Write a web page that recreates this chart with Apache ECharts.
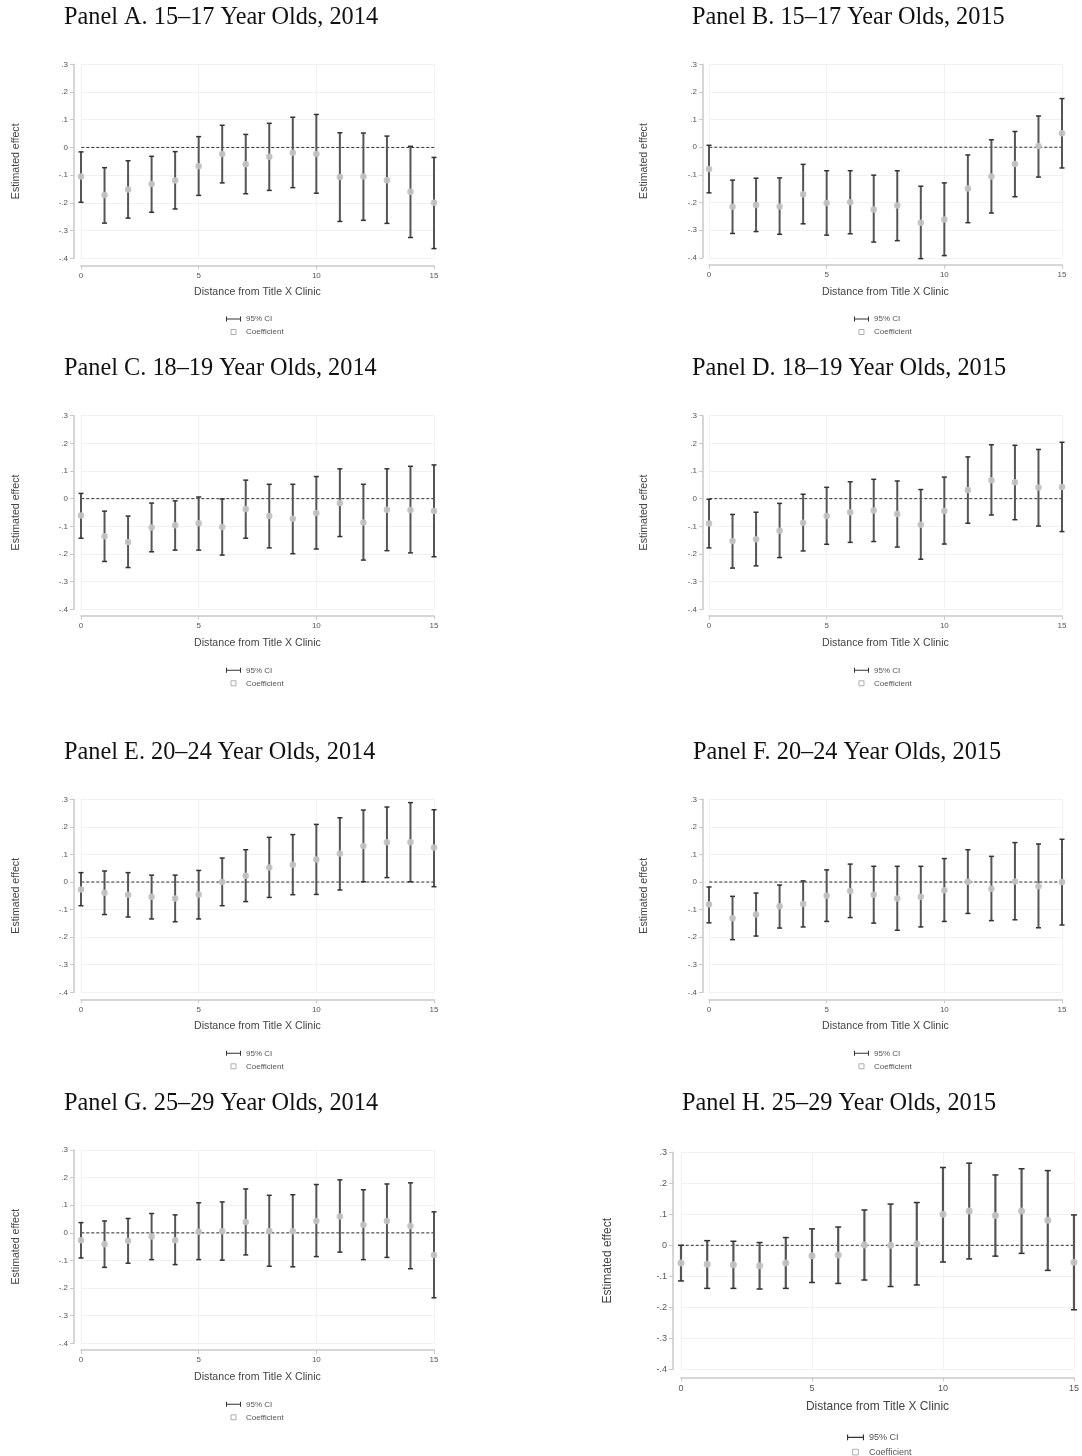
<!DOCTYPE html>
<html>
<head>
<meta charset="utf-8">
<script src="https://cdn.jsdelivr.net/npm/echarts@6/dist/echarts.min.js"></script>
<style>
html,body{margin:0;padding:0;background:#fff;}
#chart{width:1082px;height:1456px;}
</style>
</head>
<body>
<div id="chart"></div>
<script>
// ---------- DATA ----------
const distance = [0,1,2,3,4,5,6,7,8,9,10,11,12,13,14,15];
const xTickValues = [0,5,10,15];
const yTickValues = [0.3,0.2,0.1,0,-0.1,-0.2,-0.3,-0.4];
const yTickLabels = ['.3','.2','.1','0','-.1','-.2','-.3','-.4'];
const zeroLineX = [-0.2, 15.35];
const zeroLineY = [0, 0];

const titles = [
  'Panel A. 15\u201317 Year Olds, 2014','Panel B. 15\u201317 Year Olds, 2015',
  'Panel C. 18\u201319 Year Olds, 2014','Panel D. 18\u201319 Year Olds, 2015',
  'Panel E. 20\u201324 Year Olds, 2014','Panel F. 20\u201324 Year Olds, 2015',
  'Panel G. 25\u201329 Year Olds, 2014','Panel H. 25\u201329 Year Olds, 2015'
];

const coefA = [-0.105,-0.172,-0.152,-0.132,-0.119,-0.068,-0.024,-0.061,-0.034,-0.019,-0.024,-0.107,-0.105,-0.118,-0.160,-0.200];
const loA   = [-0.198,-0.273,-0.255,-0.234,-0.222,-0.173,-0.128,-0.167,-0.155,-0.145,-0.165,-0.267,-0.263,-0.274,-0.325,-0.365];
const hiA   = [-0.016,-0.073,-0.048,-0.032,-0.015,0.039,0.080,0.047,0.087,0.109,0.119,0.053,0.052,0.041,0.004,-0.036];

const coefB = [-0.079,-0.215,-0.209,-0.214,-0.170,-0.202,-0.199,-0.225,-0.211,-0.273,-0.261,-0.149,-0.106,-0.061,0.004,0.051];
const loB   = [-0.165,-0.312,-0.305,-0.315,-0.277,-0.318,-0.313,-0.343,-0.338,-0.403,-0.392,-0.273,-0.238,-0.179,-0.108,-0.075];
const hiB   = [0.007,-0.119,-0.112,-0.111,-0.062,-0.085,-0.085,-0.101,-0.085,-0.141,-0.129,-0.028,0.027,0.057,0.113,0.176];

const coefC = [-0.061,-0.136,-0.157,-0.104,-0.096,-0.089,-0.102,-0.037,-0.063,-0.073,-0.052,-0.016,-0.086,-0.040,-0.041,-0.045];
const loC   = [-0.143,-0.227,-0.249,-0.192,-0.186,-0.186,-0.204,-0.143,-0.178,-0.199,-0.182,-0.137,-0.222,-0.188,-0.196,-0.210];
const hiC   = [0.019,-0.045,-0.063,-0.016,-0.008,0.006,-0.001,0.067,0.052,0.052,0.080,0.108,0.052,0.108,0.117,0.122];

const coefD = [-0.090,-0.153,-0.147,-0.116,-0.087,-0.063,-0.049,-0.043,-0.055,-0.094,-0.045,0.031,0.067,0.059,0.040,0.042];
const loD   = [-0.178,-0.251,-0.243,-0.213,-0.189,-0.165,-0.158,-0.155,-0.175,-0.219,-0.164,-0.089,-0.059,-0.076,-0.099,-0.119];
const hiD   = [-0.002,-0.057,-0.049,-0.017,0.016,0.041,0.061,0.070,0.064,0.033,0.078,0.151,0.195,0.193,0.178,0.204];

const coefE = [-0.027,-0.039,-0.046,-0.053,-0.060,-0.045,0.000,0.023,0.053,0.063,0.082,0.103,0.131,0.144,0.144,0.125];
const loE   = [-0.086,-0.118,-0.127,-0.134,-0.144,-0.134,-0.086,-0.071,-0.056,-0.046,-0.045,-0.029,0.001,0.016,0.001,-0.017];
const hiE   = [0.034,0.040,0.034,0.025,0.025,0.042,0.087,0.117,0.162,0.172,0.209,0.233,0.261,0.272,0.288,0.262];

const coefF = [-0.082,-0.131,-0.118,-0.088,-0.080,-0.050,-0.033,-0.046,-0.060,-0.053,-0.030,0.001,-0.024,0.002,-0.015,0.000];
const loF   = [-0.148,-0.209,-0.196,-0.167,-0.163,-0.143,-0.129,-0.149,-0.175,-0.163,-0.143,-0.114,-0.140,-0.137,-0.166,-0.156];
const hiF   = [-0.018,-0.052,-0.040,-0.011,0.004,0.044,0.065,0.057,0.057,0.057,0.085,0.117,0.093,0.143,0.138,0.155];

const coefG = [-0.027,-0.041,-0.029,-0.013,-0.027,0.004,0.006,0.039,0.007,0.006,0.043,0.059,0.029,0.043,0.025,-0.080];
const loG   = [-0.091,-0.125,-0.110,-0.097,-0.115,-0.097,-0.099,-0.080,-0.121,-0.123,-0.086,-0.070,-0.097,-0.089,-0.130,-0.235];
const hiG   = [0.037,0.043,0.052,0.070,0.065,0.109,0.112,0.159,0.136,0.138,0.175,0.192,0.156,0.177,0.181,0.076];

const coefH = [-0.057,-0.061,-0.063,-0.066,-0.057,-0.034,-0.031,0.001,0.000,0.004,0.100,0.111,0.096,0.111,0.081,-0.055];
const loH   = [-0.115,-0.139,-0.139,-0.141,-0.139,-0.120,-0.123,-0.112,-0.133,-0.128,-0.054,-0.044,-0.035,-0.026,-0.081,-0.208];
const hiH   = [0.000,0.015,0.013,0.009,0.025,0.053,0.059,0.114,0.133,0.138,0.251,0.265,0.227,0.247,0.241,0.098];

const coefs = [coefA,coefB,coefC,coefD,coefE,coefF,coefG,coefH];
const lows  = [loA,loB,loC,loD,loE,loF,loG,loH];
const highs = [hiA,hiB,hiC,hiD,hiE,hiF,hiG,hiH];

// ---------- LAYOUT ----------
const layouts = [
  {gl:81,  gt:64.3,   gw:353, gh:194,   yOff:7, xOff:7,   tx:64,  ty:16,     lx:226, ly:314,    big:false},
  {gl:709, gt:64.3,   gw:353, gh:193.5, yOff:6, xOff:7,   tx:692, ty:16,     lx:854, ly:314,    big:false},
  {gl:81,  gt:415.7,  gw:353, gh:193.6, yOff:7, xOff:6.4, tx:64,  ty:366.7,  lx:226, ly:665.3,  big:false},
  {gl:709, gt:415.7,  gw:353, gh:193.6, yOff:6, xOff:6.4, tx:692, ty:366.7,  lx:854, ly:665.3,  big:false},
  {gl:81,  gt:799.3,  gw:353, gh:193,   yOff:7, xOff:7,   tx:64,  ty:750.7,  lx:226, ly:1048.3, big:false},
  {gl:709, gt:799.3,  gw:353, gh:193,   yOff:6, xOff:7,   tx:693, ty:750.7,  lx:854, ly:1048.3, big:false},
  {gl:81,  gt:1150,   gw:353, gh:193.3, yOff:7, xOff:6.7, tx:64,  ty:1102.3, lx:226, ly:1399.3, big:false},
  {gl:681, gt:1152.3, gw:398, gh:217,   yOff:8, xOff:8,   tx:682, ty:1102.3, lx:847, ly:1431.7, big:true}
];

function yFmt(v){
  for (let i=0;i<yTickValues.length;i++){
    if (Math.abs(yTickValues[i]-v) < 1e-6) return yTickLabels[i];
  }
  return '';
}
function xFmt(v){
  for (let i=0;i<xTickValues.length;i++){
    if (Math.abs(xTickValues[i]-v) < 1e-6) return String(xTickValues[i]);
  }
  return '';
}

const CI_ICON = 'path://M0,0h2v10h-2z M2,4h26v2h-26z M28,0h2v10h-2z';
const SQ_ICON = 'path://M0,0h10v10h-10z';

const option = {
  backgroundColor:'#ffffff',
  animation:false,
  title:[], grid:[], xAxis:[], yAxis:[], series:[], legend:[]
};

layouts.forEach(function(L, i){
  const f = L.big ? 1.13 : 1;
  option.title.push({
    text: titles[i], left: L.tx, top: L.ty - 10.5, padding: 0,
    textStyle:{fontFamily:'Liberation Serif', fontWeight:'normal', fontSize:24.3, color:'#111'}
  });
  option.grid.push({left:L.gl, top:L.gt, width:L.gw, height:L.gh, containLabel:false});
  option.xAxis.push({
    type:'value', gridIndex:i, min:0, max:15, interval:5, offset:L.xOff,
    axisLine:{show:true, onZero:false, lineStyle:{color:'#c9c9c9', width:1.5}},
    axisTick:{show:true, length:4, lineStyle:{color:'#c9c9c9'}},
    axisLabel:{fontFamily:'Liberation Sans', fontSize:8*f, color:'#555', margin:L.big?7:6, formatter:xFmt},
    splitLine:{show:true, lineStyle:{color:'#f1f1f1', width:1}},
    name:'Distance from Title X Clinic', nameLocation:'middle', nameGap:L.big?23:21.5,
    nameTextStyle:{fontFamily:'Liberation Sans', fontSize:10.6*f, color:'#444'}
  });
  option.yAxis.push({
    type:'value', gridIndex:i, min:-0.4, max:0.3, interval:0.1, offset:L.yOff,
    axisLine:{show:true, onZero:false, lineStyle:{color:'#c9c9c9', width:1.5}},
    axisTick:{show:true, length:4, lineStyle:{color:'#c9c9c9'}},
    axisLabel:{fontFamily:'Liberation Sans', fontSize:8*f, color:'#555', margin:6, formatter:yFmt},
    splitLine:{show:true, lineStyle:{color:'#f1f1f1', width:1}},
    name:'Estimated effect', nameLocation:'middle', nameGap:L.big?59:(L.yOff===6?53:52),
    nameTextStyle:{fontFamily:'Liberation Sans', fontSize:10.6*f, color:'#444'}
  });
  const ciData = distance.map(function(d,k){ return [d, lows[i][k], highs[i][k]]; });
  const ptData = distance.map(function(d,k){ return [d, coefs[i][k]]; });
  const zeroData = zeroLineX.map(function(x,k){ return [x, zeroLineY[k]]; });
  const capHalf = L.big ? 3 : 2.5;
  option.series.push({
    name:'zero', type:'line', xAxisIndex:i, yAxisIndex:i, clip:false, silent:true,
    symbol:'none', z:1,
    lineStyle:{type:[3,2], color:'#333', width:1},
    data: zeroData
  });
  option.series.push({
    name:'95% CI', type:'custom', xAxisIndex:i, yAxisIndex:i, clip:false, z:2,
    itemStyle:{color:'#3a3a3a'},
    encode:{x:0, y:[1,2]},
    data: ciData,
    renderItem:function(params, api){
      const x = api.value(0), lo = api.value(1), hi = api.value(2);
      const pHi = api.coord([x, hi]);
      const pLo = api.coord([x, lo]);
      return {type:'group', children:[
        {type:'line', shape:{x1:pHi[0], y1:pHi[1], x2:pLo[0], y2:pLo[1]}, style:{stroke:'#555', lineWidth:L.big?2.2:2}},
        {type:'line', shape:{x1:pHi[0]-capHalf, y1:pHi[1], x2:pHi[0]+capHalf, y2:pHi[1]}, style:{stroke:'#333', lineWidth:1.5}},
        {type:'line', shape:{x1:pLo[0]-capHalf, y1:pLo[1], x2:pLo[0]+capHalf, y2:pLo[1]}, style:{stroke:'#333', lineWidth:1.5}}
      ]};
    }
  });
  option.series.push({
    name:'Coefficient', type:'scatter', xAxisIndex:i, yAxisIndex:i,
    symbol:'circle', symbolSize:L.big?7:6.5, z:3,
    itemStyle:{color:'#c2c2c2', opacity:0.95},
    data: ptData
  });
  option.legend.push({
    orient:'vertical', left:L.lx, top:L.ly, height:60, padding:0, selectedMode:false,
    itemWidth:L.big?17:15, itemHeight:L.big?5.7:5, itemGap:L.big?3.5:3,
    textStyle:{fontFamily:'Liberation Sans', fontSize:8*f, color:'#555', lineHeight:10*f},
    data:[
      {name:'95% CI', icon:CI_ICON, itemStyle:{color:'#333'}},
      {name:'Coefficient', icon:SQ_ICON, itemStyle:{color:'#ffffff', borderColor:'#aaa', borderWidth:1}}
    ]
  });
});

const chart = echarts.init(document.getElementById('chart'), null, {renderer:'canvas'});
chart.setOption(option);
</script>
</body>
</html>
